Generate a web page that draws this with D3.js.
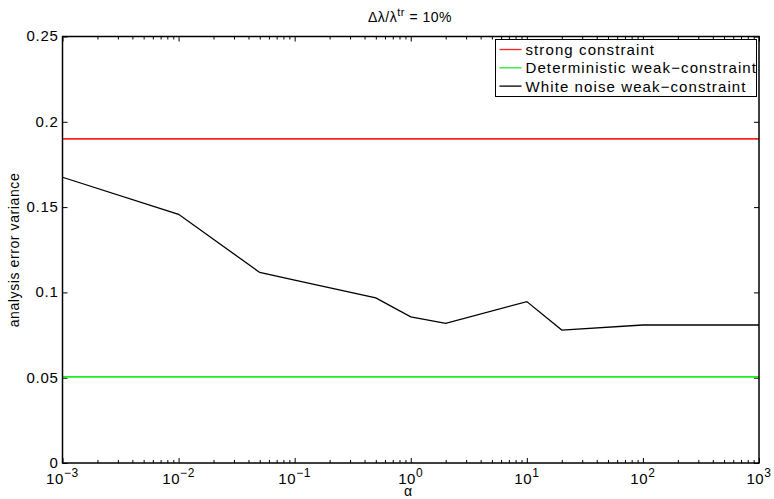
<!DOCTYPE html>
<html>
<head>
<meta charset="utf-8">
<script src="https://cdn.jsdelivr.net/npm/d3@7"></script>
<style>
  body { margin: 0; background: #fff; }
  text { font-family: "Liberation Sans", Arial, sans-serif; fill: #000; }
</style>
</head>
<body>
<svg id="chart" width="774" height="499"></svg>
<script>
// data
const alpha = [1e-3, 1e-2, 5e-2, 1e-1, 5e-1, 1, 2, 10, 20, 100, 1000];
const white_noise = [0.1675, 0.1458, 0.1117, 0.1072, 0.0968, 0.0857, 0.0819, 0.0946, 0.0779, 0.0809, 0.0809];
const strong_value = 0.19;
const deterministic_value = 0.0505;

const x_ticks = [1e-3, 1e-2, 1e-1, 1, 10, 100, 1000];
const x_tick_exps = ["−3", "−2", "−1", "0", "1", "2", "3"];
const y_ticks = [0, 0.05, 0.1, 0.15, 0.2, 0.25];
const y_tick_labels = ["0", "0.05", "0.1", "0.15", "0.2", "0.25"];

const legend_labels = ["strong constraint", "Deterministic weak−constraint", "White noise weak−constraint"];
const legend_colors = ["#ff2020", "#20ee20", "#000"];

const svg = d3.select("#chart");
const margin_left = 62.5, margin_top = 36.5;
const width = 696.5, height = 426.5;

const xScale = d3.scaleLog().domain([1e-3, 1e3]).range([0, width]);
const yScale = d3.scaleLinear().domain([0, 0.25]).range([height, 0]);

const g = svg.append("g").attr("transform", `translate(${margin_left}, ${margin_top})`);

// minor ticks for log axis
const minor = [];
for (let e = -3; e < 3; e++) {
    for (let m = 2; m <= 9; m++) minor.push(m * Math.pow(10, e));
}

function styleAxis(sel) {
    sel.select(".domain").remove();
    sel.selectAll(".tick line").attr("stroke", "#000").attr("stroke-width", 1);
    sel.selectAll(".tick text").remove();
}

// bottom / top axes
g.append("g").attr("transform", `translate(0, ${height})`)
    .call(d3.axisBottom(xScale).tickValues(x_ticks).tickSize(-5)).call(styleAxis);
g.append("g").attr("transform", `translate(0, ${height})`)
    .call(d3.axisBottom(xScale).tickValues(minor).tickSize(-3)).call(styleAxis);
g.append("g")
    .call(d3.axisTop(xScale).tickValues(x_ticks).tickSize(-5)).call(styleAxis);
g.append("g")
    .call(d3.axisTop(xScale).tickValues(minor).tickSize(-3)).call(styleAxis);

// left / right axes
g.append("g")
    .call(d3.axisLeft(yScale).tickValues(y_ticks).tickSize(-5)).call(styleAxis);
g.append("g").attr("transform", `translate(${width}, 0)`)
    .call(d3.axisRight(yScale).tickValues(y_ticks).tickSize(-5)).call(styleAxis);

// x tick labels with superscript exponents
x_ticks.forEach((v, i) => {
    const t = g.append("text")
        .attr("x", xScale(v))
        .attr("y", height + 21)
        .attr("text-anchor", "middle")
        .style("font-size", "15px")
        .style("letter-spacing", "0.6px");
    t.append("tspan").text("10");
    t.append("tspan").attr("dy", -7).style("font-size", "12px").text(x_tick_exps[i]);
});

// y tick labels
y_ticks.forEach((v, i) => {
    g.append("text")
        .attr("x", -4)
        .attr("y", yScale(v))
        .attr("dy", "0.33em")
        .attr("text-anchor", "end")
        .style("font-size", "15px")
        .style("letter-spacing", "0.7px")
        .text(y_tick_labels[i]);
});

// horizontal reference lines
g.append("line")
    .attr("x1", 0).attr("x2", width)
    .attr("y1", yScale(strong_value)).attr("y2", yScale(strong_value))
    .attr("stroke", legend_colors[0]).attr("stroke-width", 1.6);
g.append("line")
    .attr("x1", 0).attr("x2", width)
    .attr("y1", yScale(deterministic_value)).attr("y2", yScale(deterministic_value))
    .attr("stroke", legend_colors[1]).attr("stroke-width", 1.6);

// white noise line
const line = d3.line().x((d, i) => xScale(alpha[i])).y(d => yScale(d));
g.append("path")
    .datum(white_noise)
    .attr("d", line)
    .attr("fill", "none")
    .attr("stroke", "#000")
    .attr("stroke-width", 1.3);

// plot box
g.append("rect")
    .attr("x", 0).attr("y", 0)
    .attr("width", width).attr("height", height)
    .attr("fill", "none")
    .attr("stroke", "#000")
    .attr("stroke-width", 1.5);

// legend
const legend = svg.append("g").attr("transform", "translate(495.5, 39.5)");
legend.append("rect")
    .attr("width", 261).attr("height", 57)
    .attr("fill", "#fff").attr("stroke", "#000").attr("stroke-width", 1);
legend_labels.forEach((lab, i) => {
    const ly = 10 + i * 18.3;
    legend.append("line")
        .attr("x1", 4).attr("x2", 26)
        .attr("y1", ly).attr("y2", ly)
        .attr("stroke", legend_colors[i]).attr("stroke-width", 1.3);
    legend.append("text")
        .attr("x", 30).attr("y", ly + 5.5)
        .style("font-size", "15px")
        .style("letter-spacing", "1.1px")
        .text(lab);
});

// title
const title = svg.append("text")
    .attr("x", 410).attr("y", 22)
    .attr("text-anchor", "middle")
    .style("font-size", "14px")
    .style("letter-spacing", "0.5px");
title.append("tspan").text("Δλ/λ");
title.append("tspan").attr("dy", -6).style("font-size", "11px").text("tr");
title.append("tspan").attr("dy", 6).text(" = 10%");

// axis labels
svg.append("text")
    .attr("x", 408).attr("y", 496)
    .attr("text-anchor", "middle")
    .style("font-size", "14px")
    .text("α");
svg.append("text")
    .attr("transform", "translate(19, 250) rotate(-90)")
    .attr("text-anchor", "middle")
    .style("font-size", "14px")
    .style("letter-spacing", "0.6px")
    .text("analysis error variance");
</script>
</body>
</html>
